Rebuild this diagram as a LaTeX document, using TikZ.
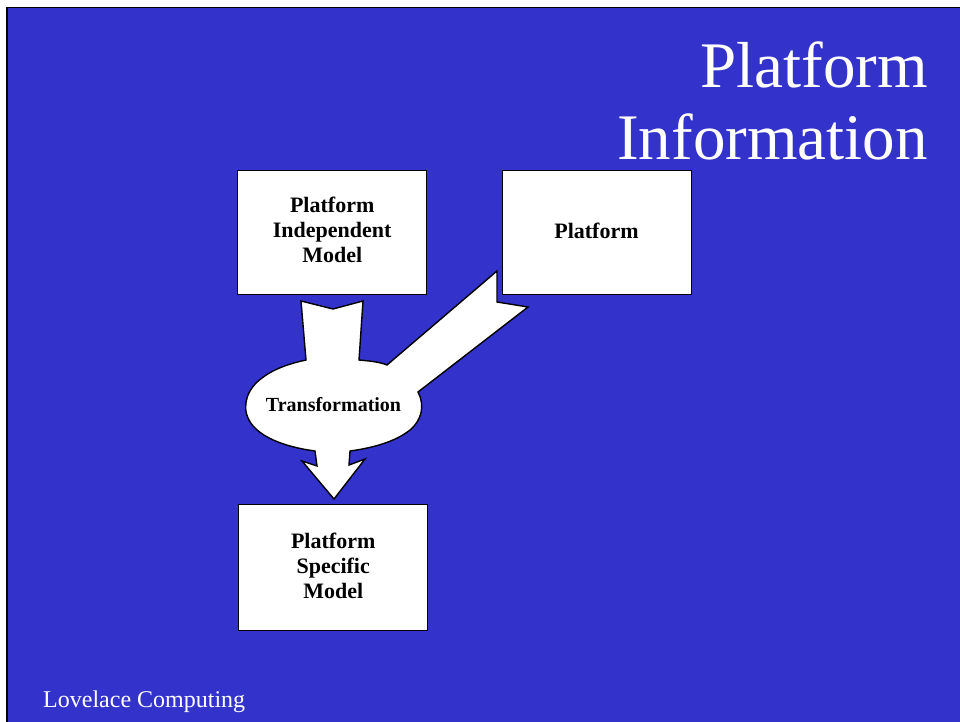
\documentclass[tikz,border=0pt]{standalone}
\usepackage{fontspec}
\setmainfont{Liberation Serif}
\definecolor{slideblue}{RGB}{51,51,204}
\begin{document}
\begin{tikzpicture}[x=1pt,y=-1pt,
  boxnode/.style={draw=black,fill=white,line width=1.4pt,inner sep=0pt},
  boxtext/.style={font=\fontsize{22}{25}\selectfont\bfseries,align=center,text=black},
  shapeline/.style={draw=black,fill=white,line width=1.4pt,line join=miter}]
\useasboundingbox (0,0) rectangle (960,722);
\fill[white] (0,0) rectangle (960,722);
\fill[slideblue] (6,7) rectangle (960,722);
\draw[line width=1.5pt] (6.75,722) -- (6.75,7.75) -- (960,7.75);
% transformation blob with arrows
\path[shapeline] (301,301) -- (333,309) -- (363,301) -- (359,360)
  .. controls (370,361) and (380,362) .. (387,365) -- (497,271) -- (497,302) -- (528,307) -- (418,392)
  .. controls (425,405) and (422,420) .. (410,430)
  .. controls (395,442) and (372,448) .. (350,451) -- (349,465) -- (365,459) -- (334,499)
  -- (302,461) -- (317,466) -- (315,451)
  .. controls (285,447) and (258,437) .. (249,420)
  .. controls (241,405) and (248,388) .. (262,378)
  .. controls (275,368) and (292,363) .. (306,360) -- cycle;
\node[font=\fontsize{20}{24}\selectfont\bfseries,anchor=base] (trans) at (333.5,411) {Transformation};
% boxes
\node[boxnode,minimum width=189pt,minimum height=124pt,anchor=north west] (pim) at (237,170) {};
\node[boxtext] (pimt) at ([yshift=3pt]pim.center) {Platform\\Independent\\Model};
\node[boxnode,minimum width=189pt,minimum height=124pt,anchor=north west] (plat) at (502,170) {};
\node[boxtext,anchor=base] (platt) at (596.5,238) {Platform};
\node[boxnode,minimum width=189pt,minimum height=126pt,anchor=north west] (psm) at (238,504) {};
\node[boxtext] (psmt) at ([yshift=2pt]psm.center) {Platform\\Specific\\Model};
% title
\node[text=white,font=\fontsize{65}{72}\selectfont,anchor=base east,inner sep=0pt] (title1) at (928,88) {Platform};
\node[text=white,font=\fontsize{65}{72}\selectfont,anchor=base east,inner sep=0pt] (title2) at (928,160) {Information};
% footer
\node[text=white,font=\fontsize{24}{28}\selectfont,anchor=base west,inner sep=0pt] (footer) at (43,707) {Lovelace Computing};
\end{tikzpicture}
\end{document}
